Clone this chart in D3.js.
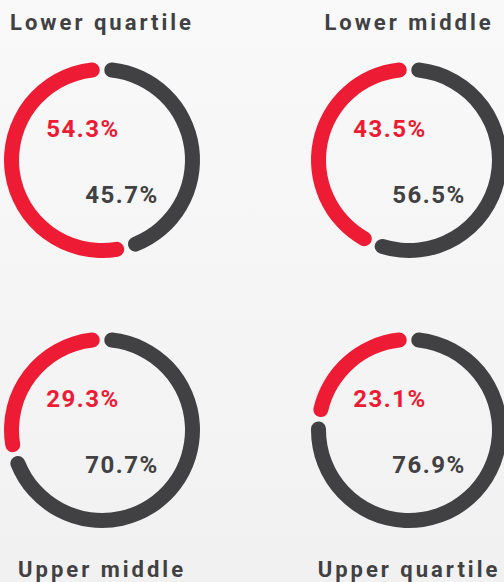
<!DOCTYPE html>
<html>
<head>
<meta charset="utf-8">
<script src="https://cdn.jsdelivr.net/npm/d3@7"></script>
<style>
  html, body { margin: 0; padding: 0; }
  body { width: 504px; height: 582px; overflow: hidden; }
  svg { display: block; font-family: Roboto, "DejaVu Sans", sans-serif; font-weight: 700; }
</style>
</head>
<body>
<svg id="drawing_region"></svg>
<script>
// pay quartiles: share of women (red) vs men (dark)
const groups = ["Lower quartile", "Lower middle", "Upper middle", "Upper quartile"];
const women = [54.3, 43.5, 29.3, 23.1];
const men = [45.7, 56.5, 70.7, 76.9];

const config = {
    width: 504,
    height: 582,
    outer: 98,
    thickness: 15
};

const red = "#ed1b33";
const dark = "#414042";

const svg = d3.select("#drawing_region")
    .attr("width", config.width)
    .attr("height", config.height);

// light grey background gradient
const grad = svg.append("defs").append("linearGradient")
    .attr("id", "bg")
    .attr("x1", 0).attr("y1", 0).attr("x2", 0).attr("y2", 1);
grad.append("stop").attr("offset", "0%").attr("stop-color", "#f9f9f9");
grad.append("stop").attr("offset", "100%").attr("stop-color", "#f1f1f1");
svg.append("rect")
    .attr("width", config.width)
    .attr("height", config.height)
    .attr("fill", "url(#bg)");

// 2x2 grid of donuts
const xcol = d3.scalePoint().domain([0, 1]).range([102, 409]);
const yrow = d3.scalePoint().domain([0, 1]).range([160, 430]);

const pie = d3.pie()
    .sort(null)
    .value(d => d.value);

const arc = d3.arc()
    .innerRadius(config.outer - config.thickness)
    .outerRadius(config.outer)
    .cornerRadius(config.thickness / 2)
    .padAngle(0.035);

groups.forEach((name, i) => {
    const col = i % 2;
    const row = Math.floor(i / 2);
    const cx = xcol(col);
    const cy = yrow(row);

    const g = svg.append("g")
        .attr("transform", `translate(${cx}, ${cy})`);

    const slices = [
        {key: "men", value: men[i], color: dark},
        {key: "women", value: women[i], color: red}
    ];

    g.selectAll("path")
        .data(pie(slices))
        .join("path")
        .attr("d", arc)
        .attr("fill", d => d.data.color);

    g.append("text")
        .attr("x", -19)
        .attr("y", -23)
        .attr("text-anchor", "middle")
        .attr("fill", red)
        .style("font-size", "24px")
        .style("letter-spacing", "1.5px")
        .text(women[i].toFixed(1) + "%");

    g.append("text")
        .attr("x", 20)
        .attr("y", 43)
        .attr("text-anchor", "middle")
        .attr("fill", dark)
        .style("font-size", "24px")
        .style("letter-spacing", "1.5px")
        .text(men[i].toFixed(1) + "%");

    // titles sit above the top row, below the bottom row
    g.append("text")
        .attr("x", 0)
        .attr("y", row === 0 ? -130 : 147)
        .attr("text-anchor", "middle")
        .attr("fill", dark)
        .style("font-size", "22px")
        .style("letter-spacing", "3px")
        .text(name);
});
</script>
</body>
</html>
